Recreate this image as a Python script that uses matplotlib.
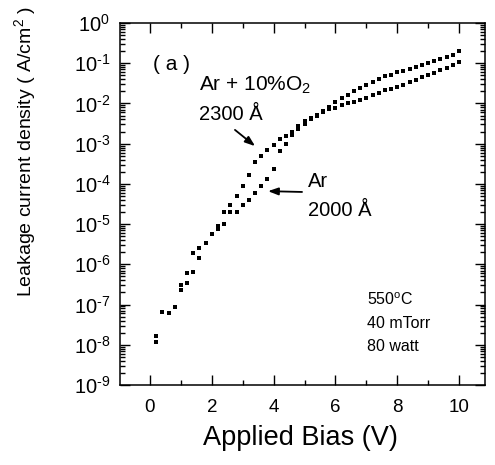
import matplotlib
matplotlib.use("Agg")
import matplotlib.pyplot as plt
from matplotlib.ticker import LogLocator, MultipleLocator, NullFormatter

plt.rcParams['font.family'] = ['Liberation Sans', 'DejaVu Sans']
plt.rcParams['mathtext.fontset'] = 'custom'
plt.rcParams['mathtext.rm'] = 'Liberation Sans'
plt.rcParams['mathtext.it'] = 'Liberation Sans:italic'
plt.rcParams['mathtext.bf'] = 'Liberation Sans:bold'

# Ar + 10% O2 (2300 A) series
bias_o2 = [0.2, 0.4, 0.8, 1.0, 1.2, 1.4, 1.6, 1.8, 2.0, 2.2, 2.4, 2.6, 2.8, 3.0,
           3.2, 3.4, 3.6, 3.8, 4.0, 4.2, 4.4, 4.6, 4.8, 5.0, 5.2, 5.4, 5.6, 5.8,
           6.0, 6.2, 6.4, 6.6, 6.8, 7.0, 7.2, 7.4, 7.6, 7.8, 8.0, 8.2, 8.4, 8.6,
           8.8, 9.0, 9.2, 9.4, 9.6, 9.8, 10.0]
j_o2 = [1.7e-8, 6.5e-8, 8.7e-8, 3.0e-7, 6.0e-7, 1.9e-6, 2.5e-6, 3.4e-6, 5.6e-6,
        8.9e-6, 2.0e-5, 3.0e-5, 5.0e-5, 8.9e-5, 1.7e-4, 3.5e-4, 4.9e-4, 6.9e-4,
        9.3e-4, 1.3e-3, 1.55e-3, 2.0e-3, 2.75e-3, 3.6e-3, 4.3e-3, 5.1e-3, 6.6e-3,
        8.1e-3, 1.07e-2, 1.35e-2, 1.6e-2, 2.0e-2, 2.4e-2, 2.8e-2, 3.4e-2, 4.0e-2,
        4.7e-2, 5.2e-2, 5.9e-2, 6.5e-2, 7.2e-2, 8.1e-2, 9.1e-2, 0.102, 0.112,
        0.126, 0.141, 0.162, 0.20]

# Ar (2000 A) series
bias_ar = [0.2, 0.6, 1.0, 1.2, 1.4, 1.6, 2.2, 2.4, 2.6, 2.8, 3.0, 3.2, 3.4, 3.6,
           3.8, 4.0, 4.2, 4.4, 4.6, 4.8, 5.0, 5.2, 5.4, 5.6, 5.8, 6.0, 6.2, 6.4,
           6.6, 6.8, 7.0, 7.2, 7.4, 7.6, 7.8, 8.0, 8.2, 8.4, 8.6, 8.8, 9.0, 9.2,
           9.4, 9.6, 9.8, 10.0]
j_ar = [1.2e-8, 6.2e-8, 2.3e-7, 3.4e-7, 6.5e-7, 1.4e-6, 7.6e-6, 1.0e-5, 2.0e-5,
        2.0e-5, 3.0e-5, 4.0e-5, 5.9e-5, 8.9e-5, 1.3e-4, 2.4e-4, 6.6e-4, 1.0e-3,
        1.6e-3, 2.3e-3, 3.0e-3, 4.0e-3, 5.0e-3, 6.0e-3, 7.1e-3, 7.9e-3, 8.9e-3,
        1.0e-2, 1.1e-2, 1.23e-2, 1.4e-2, 1.6e-2, 1.8e-2, 2.1e-2, 2.35e-2, 2.6e-2,
        2.95e-2, 3.4e-2, 3.9e-2, 4.5e-2, 5.0e-2, 5.8e-2, 6.6e-2, 7.6e-2, 8.9e-2,
        0.107]

x_ticks = [0, 2, 4, 6, 8, 10]
y_ticks = [1e0, 1e-1, 1e-2, 1e-3, 1e-4, 1e-5, 1e-6, 1e-7, 1e-8, 1e-9]
y_exponents = ['0', '-1', '-2', '-3', '-4', '-5', '-6', '-7', '-8', '-9']
y_ticklabels = [r'$10^{\text{%s}}$' % e for e in y_exponents]

fig = plt.figure(figsize=(4.95, 4.65), dpi=100)
ax = fig.add_axes([120/495, 1-385/465, 365/495, 362/465])

ax.plot(bias_o2, j_o2, 's', color='black', markersize=3.3, markeredgewidth=0)
ax.plot(bias_ar, j_ar, 's', color='black', markersize=3.3, markeredgewidth=0)

ax.set_yscale('log')
ax.set_xlim(-0.97, 10.84)
ax.set_ylim(1e-9, 1e0)
ax.set_xticks(x_ticks)
ax.set_xticklabels([str(t) for t in x_ticks])
ax.xaxis.set_minor_locator(MultipleLocator(1))
ax.set_yticks(y_ticks)
ax.set_yticklabels(y_ticklabels)
ax.yaxis.set_minor_locator(LogLocator(base=10, subs=range(2, 10), numticks=20))
ax.yaxis.set_minor_formatter(NullFormatter())

for s in ax.spines.values():
    s.set_linewidth(1.1)
ax.tick_params(which='both', direction='in', top=True, right=True, width=1.0)
ax.tick_params(axis='x', which='major', pad=10, labelsize=13.5)
ax.tick_params(axis='y', which='major', pad=7, labelsize=14.5)
ax.tick_params(which='major', length=7)
ax.tick_params(which='minor', length=3.5)

fig.text(300/495, 1-438/465, 'Applied Bias (V)', fontsize=19.5, ha='center', va='center')
fig.text(25/495, 1-152/465, r'Leakage current density ( A/cm$^2$ )', fontsize=14,
         ha='center', va='center', rotation=90)

ax.text(0.090, 0.884, '( a )', transform=ax.transAxes, fontsize=15, va='center')
ax.text(0.216, 0.829, r'Ar + 10%O$_2$', transform=ax.transAxes, fontsize=15, va='center')
ax.text(0.216, 0.746, '2300 Å', transform=ax.transAxes, fontsize=14.5, va='center')
ax.text(0.515, 0.561, 'Ar', transform=ax.transAxes, fontsize=14.5, va='center')
ax.text(0.515, 0.483, '2000 Å', transform=ax.transAxes, fontsize=14.5, va='center')
ax.text(0.677, 0.235, r'550$^{\rm o}$C', transform=ax.transAxes, fontsize=11.5, va='center')
ax.text(0.677, 0.171, '40 mTorr', transform=ax.transAxes, fontsize=11.5, va='center')
ax.text(0.677, 0.105, '80 watt', transform=ax.transAxes, fontsize=11.5, va='center')

arrow = dict(arrowstyle='-|>,head_length=0.6,head_width=0.22', color='black', lw=1.3,
             shrinkA=0, shrinkB=0)
ax.annotate('', xy=(3.40, 8.7e-4), xytext=(2.75, 2.2e-3), arrowprops=arrow)
ax.annotate('', xy=(3.82, 6.6e-5), xytext=(4.92, 6.3e-5), arrowprops=arrow)

fig.savefig('out.png', dpi=100)
